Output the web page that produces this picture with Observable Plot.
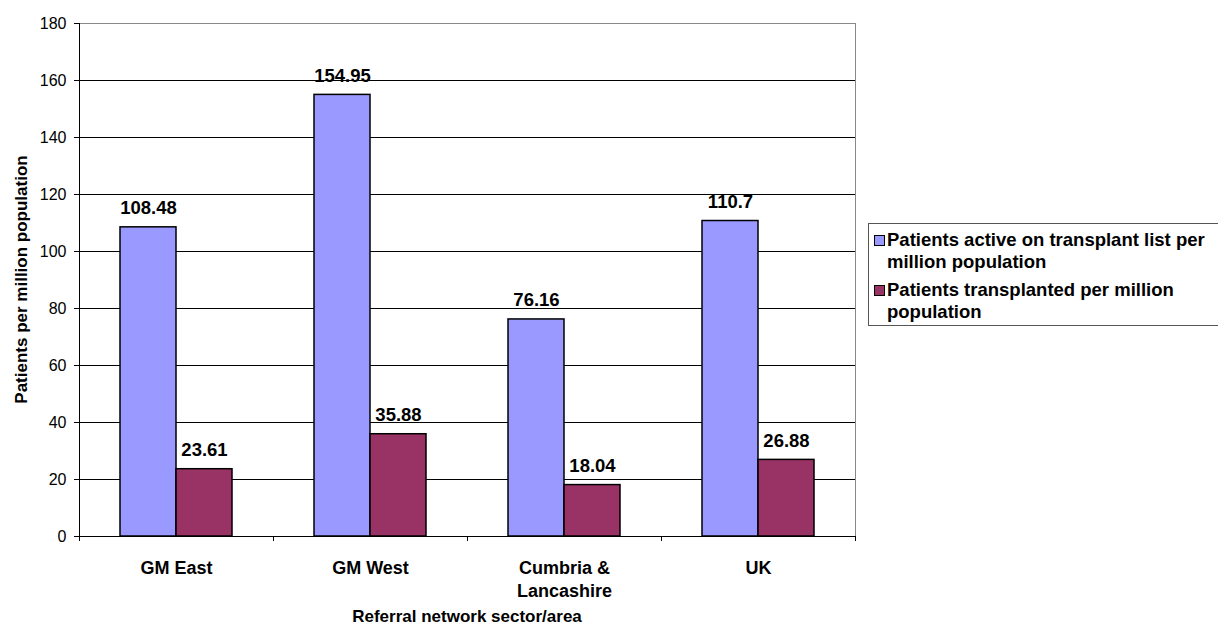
<!DOCTYPE html>
<html>
<head>
<meta charset="utf-8">
<script src="https://cdn.jsdelivr.net/npm/d3@7"></script>
<script src="https://cdn.jsdelivr.net/npm/@observablehq/plot@0.6"></script>
<style>
  html, body { margin: 0; padding: 0; background: #fff; overflow: hidden; }
  #chart { position: relative; width: 1218px; height: 625px; font-family: "Liberation Sans", Arial, sans-serif; }
  #chart svg { display: block; }
  .legend {
    position: absolute; left: 868px; top: 223px; width: 380px;
    border: 1px solid #555; background: #fff; box-sizing: border-box;
    padding: 5px 0 2px 0;
    font-family: "Liberation Sans", Arial, sans-serif; font-weight: bold; font-size: 18.5px;
    line-height: 22px; color: #000;
  }
  .legend .item { position: relative; padding-left: 18px; width: 340px; margin-bottom: 6px; }
  .legend .item:last-child { margin-bottom: 0; }
  .legend .swatch {
    position: absolute; left: 5px; top: 6px; width: 9px; height: 9px; border: 1px solid #000;
  }
</style>
</head>
<body>
<div id="chart"></div>
<script>
// Referral areas and the two measures (per million population)
const areas = ["GM East", "GM West", "Cumbria & Lancashire", "UK"];
const seriesNames = [
  "Patients active on transplant list per million population",
  "Patients transplanted per million population"
];
const activeOnList = [108.48, 154.95, 76.16, 110.7];
const transplanted = [23.61, 35.88, 18.04, 26.88];
const seriesColors = ["#9999FF", "#993366"];
const yTicks = [0, 20, 40, 60, 80, 100, 120, 140, 160, 180];
const gridTicks = [20, 40, 60, 80, 100, 120, 140, 160];
const yLabel = "Patients per million population";
const xLabel = "Referral network sector/area";

const rows = [];
areas.forEach((area, i) => {
  rows.push({ area, series: seriesNames[0], value: activeOnList[i] });
  rows.push({ area, series: seriesNames[1], value: transplanted[i] });
});

const font = "'Liberation Sans', Arial, sans-serif";

const plot = Plot.plot({
  width: 1218,
  height: 625,
  marginLeft: 79,
  marginRight: 363,
  marginTop: 23,
  marginBottom: 89,
  style: { fontFamily: font, background: "transparent", color: "#000" },
  fx: { domain: areas, padding: 0, label: null },
  x: { domain: seriesNames, paddingInner: 0, paddingOuter: 0.732, axis: null },
  y: { domain: [0, 180], label: null },
  color: { domain: seriesNames, range: seriesColors },
  marks: [
    Plot.gridY(gridTicks, { stroke: "#000", strokeOpacity: 1 }),
    Plot.ruleY([180], { stroke: "#888" }),
    Plot.barY(rows, {
      fx: "area", x: "series", y: "value", fill: "series",
      stroke: "#000", strokeWidth: 1.5
    }),
    Plot.text(rows, {
      fx: "area", x: "series", y: "value", text: d => String(d.value),
      lineAnchor: "bottom", dy: -13, fontSize: 18.5, fontWeight: "bold", fill: "#000"
    }),
    Plot.ruleY([0], { stroke: "#000" }),
    Plot.axisY({ ticks: yTicks, tickSize: 5, tickPadding: 8, fontSize: 16, label: null }),
    Plot.axisFx({
      anchor: "bottom", tickSize: 0, tickPadding: 21, fontSize: 18, fontWeight: "bold",
      lineHeight: 1.28, label: null, tickFormat: d => d.replace(" & ", " &\n")
    })
  ]
});

document.getElementById("chart").appendChild(plot);

// Axis lines, plot-area border, category separator ticks and axis titles
const svg = d3.select(plot);
const fxScale = plot.scale("fx");
const yScale = plot.scale("y");
const y0 = yScale.apply(0);
const yTop = yScale.apply(180);
const [xLeft, xRight] = fxScale.range;
const extra = svg.append("g");

extra.append("line")
  .attr("x1", xRight + 0.5).attr("x2", xRight + 0.5)
  .attr("y1", yTop).attr("y2", y0)
  .attr("stroke", "#888");
extra.append("line")
  .attr("x1", xLeft + 0.5).attr("x2", xLeft + 0.5)
  .attr("y1", yTop).attr("y2", y0 + 0.5)
  .attr("stroke", "#000");

const boundaries = areas.map(a => fxScale.apply(a)).concat([xRight]);
boundaries.forEach(x => {
  extra.append("line")
    .attr("x1", x + 0.5).attr("x2", x + 0.5)
    .attr("y1", y0).attr("y2", y0 + 5)
    .attr("stroke", "#000");
});

extra.append("text")
  .attr("transform", `translate(27,${(yTop + y0) / 2}) rotate(-90)`)
  .attr("text-anchor", "middle")
  .attr("font-family", font).attr("font-weight", "bold").attr("font-size", 17)
  .attr("fill", "#000")
  .text(yLabel);

extra.append("text")
  .attr("x", (xLeft + xRight) / 2).attr("y", 622)
  .attr("text-anchor", "middle")
  .attr("font-family", font).attr("font-weight", "bold").attr("font-size", 17)
  .attr("fill", "#000")
  .text(xLabel);

// Legend
const legend = d3.select("#chart").append("div").attr("class", "legend");
seriesNames.forEach((name, i) => {
  const item = legend.append("div").attr("class", "item");
  item.append("span").attr("class", "swatch").style("background", seriesColors[i]);
  item.append("span").text(name);
});
</script>
</body>
</html>
